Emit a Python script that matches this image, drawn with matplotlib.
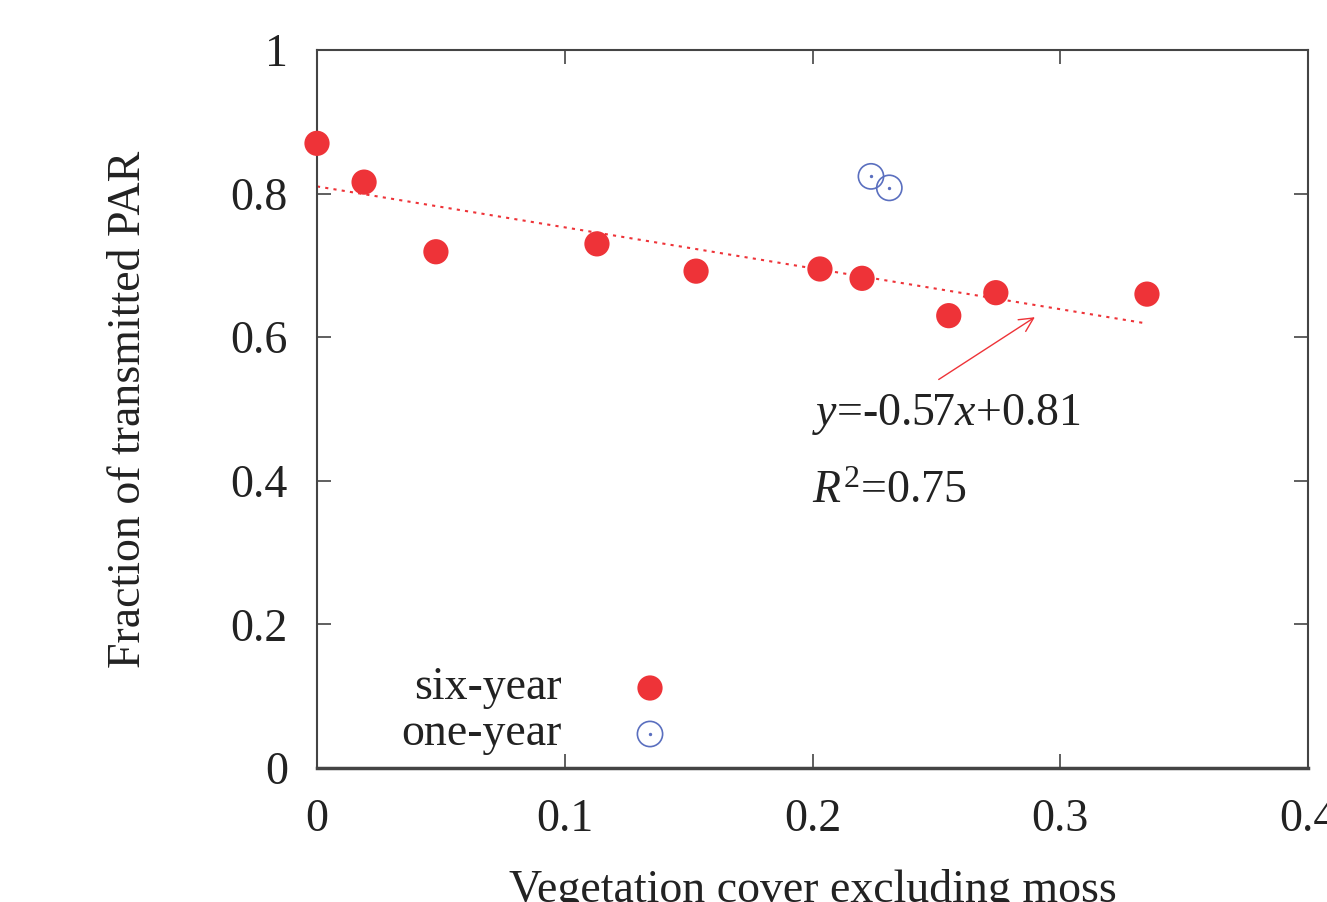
import matplotlib
matplotlib.use("Agg")
import matplotlib.pyplot as plt
import numpy as np

plt.rcParams['font.family'] = ['Liberation Serif', 'DejaVu Serif']
plt.rcParams['mathtext.fontset'] = 'custom'
plt.rcParams['mathtext.rm'] = 'Liberation Serif'
plt.rcParams['mathtext.it'] = 'Liberation Serif:italic'

six_x = [0.0, 0.019, 0.048, 0.113, 0.153, 0.203, 0.220, 0.255, 0.274, 0.335]
six_y = [0.870, 0.816, 0.719, 0.730, 0.692, 0.695, 0.682, 0.630, 0.662, 0.660]
one_x = [0.2236, 0.231]
one_y = [0.824, 0.808]
slope, intercept = -0.57, 0.81
fit_x = [0.0, 0.335]
xticks = [0, 0.1, 0.2, 0.3, 0.4]
xticklabels = ['0', '0.1', '0.2', '0.3', '0.4']
yticks = [0, 0.2, 0.4, 0.6, 0.8, 1.0]
yticklabels = ['0', '0.2', '0.4', '0.6', '0.8', '1']

red = '#ee3338'
blue = '#5a6fbf'
txt = '#222222'
FS = 33

fig = plt.figure(figsize=(13.27, 9.02), dpi=100)
ax = fig.add_axes([317/1327, 1-768/902, (1308-317)/1327, (768-50)/902])
ax.set_xlim(0, 0.4)
ax.set_ylim(0, 1)

fx = np.array(fit_x)
ax.plot(fx, slope*fx + intercept, color=red, lw=1.5, ls=(0, (1.5, 2.5)), zorder=2)
ax.scatter(six_x, six_y, s=330, color=red, edgecolors='none', zorder=3, clip_on=False)
ax.scatter(one_x, one_y, s=330, facecolors='none', edgecolors=blue, linewidths=1.2, zorder=3)
ax.scatter(one_x, one_y, s=2, color=blue, zorder=3)

ax.annotate('', xy=(0.2907, 0.630), xytext=(0.250, 0.539),
            arrowprops=dict(arrowstyle='->', color=red, lw=1.0, mutation_scale=25))
ax.text(0.200, 0.493, r'$\mathit{y}$=-0.57$\mathit{x}$+0.81', fontsize=FS, va='center', ha='left', color=txt)
ax.text(0.200, 0.385, r'$\mathit{R}^2$=0.75', fontsize=FS, va='center', ha='left', color=txt)

# legend (manual, gnuplot-like)
lx_text = (562-317)/(1308-317)
lx_mark = (650-317)/(1308-317)
ly1 = (768-688)/718
ly2 = (768-734)/718
ax.text(lx_text, ly1, 'six-year', transform=ax.transAxes, ha='right', va='center', fontsize=FS, color=txt)
ax.text(lx_text, ly2, 'one-year', transform=ax.transAxes, ha='right', va='center', fontsize=FS, color=txt)
ax.scatter([lx_mark], [ly1], s=330, color=red, edgecolors='none', transform=ax.transAxes)
ax.scatter([lx_mark], [ly2], s=330, facecolors='none', edgecolors=blue, linewidths=1.2, transform=ax.transAxes)
ax.scatter([lx_mark], [ly2], s=2, color=blue, transform=ax.transAxes)

ax.set_xticks(xticks)
ax.set_xticklabels(xticklabels)
ax.set_yticks(yticks)
ax.set_yticklabels(yticklabels)
ax.tick_params(direction='in', length=10, width=1.2, top=True, right=True,
               labelsize=FS, colors='#444444', labelcolor=txt)
ax.tick_params(axis='y', pad=21)
ax.tick_params(axis='x', pad=22)
for s in ax.spines.values():
    s.set_color('#444444')
    s.set_linewidth(1.5)
ax.spines['bottom'].set_linewidth(2.5)

ax.set_xlabel('Vegetation cover excluding moss', fontsize=FS, color=txt, labelpad=20)
ax.set_ylabel('Fraction of transmitted PAR', fontsize=FS, color=txt, labelpad=58)

fig.savefig('out.png', dpi=100)
